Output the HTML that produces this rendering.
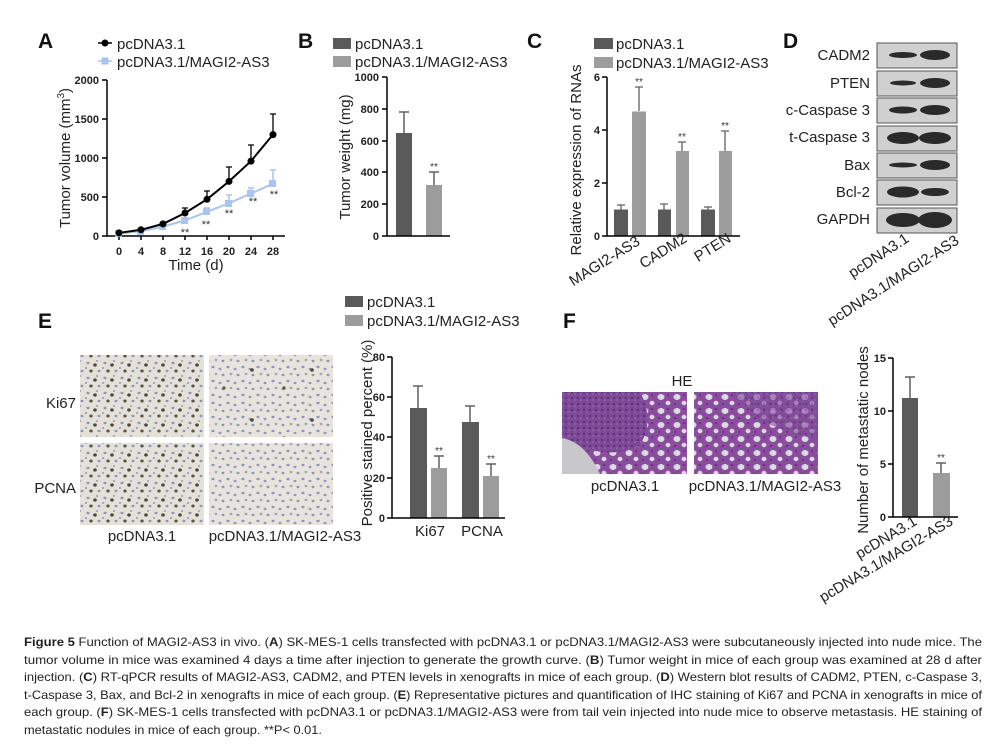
<!DOCTYPE html>
<html><head><meta charset="utf-8"><style>
html,body{margin:0;padding:0;background:#fff;}
svg{display:block;font-family:"Liberation Sans",sans-serif;}
.t{font-size:11px;font-weight:bold;fill:#222;}
.lg{font-size:15px;fill:#222;}
.pl{font-size:21px;font-weight:bold;fill:#111;}
.cap{font-size:11.6px;fill:#222;}
</style></head><body>
<svg width="1006" height="752" viewBox="0 0 1006 752" xmlns="http://www.w3.org/2000/svg">
<defs>
<pattern id="ihc1" width="17" height="15" patternUnits="userSpaceOnUse">
<rect width="17" height="15" fill="#e6e1d8"/>
<ellipse cx="3" cy="3" rx="1.6" ry="1.2" fill="#8a96c0"/>
<ellipse cx="10" cy="5" rx="1.8" ry="1.6" fill="#4a463a"/>
<ellipse cx="14" cy="11" rx="1.5" ry="1.2" fill="#8a96c0"/>
<ellipse cx="6" cy="11" rx="1.7" ry="1.5" fill="#5a5444"/>
<ellipse cx="12" cy="1" rx="1.2" ry="1" fill="#9aa4c8"/>
<ellipse cx="1" cy="8" rx="1.3" ry="1" fill="#9aa4c8"/>
</pattern>
<pattern id="ihc2" width="15" height="14" patternUnits="userSpaceOnUse">
<rect width="15" height="14" fill="#e8e4dc"/>
<ellipse cx="3" cy="3" rx="1.6" ry="1.2" fill="#8896c4"/>
<ellipse cx="10" cy="5" rx="1.5" ry="1.2" fill="#8c9ac6"/>
<ellipse cx="13" cy="11" rx="1.5" ry="1.2" fill="#8a96c0"/>
<ellipse cx="6" cy="10" rx="1.4" ry="1.2" fill="#9aa4c8"/>
</pattern>
<pattern id="ihc3" width="60" height="50" patternUnits="userSpaceOnUse">
<rect width="60" height="50" fill="url(#ihc2)"/>
<circle cx="12" cy="20" r="1.8" fill="#4a463a"/>
<circle cx="44" cy="38" r="1.6" fill="#5a5444"/>
</pattern>
<pattern id="he" width="16" height="14" patternUnits="userSpaceOnUse">
<rect width="16" height="14" fill="#8a4c9c"/>
<ellipse cx="5" cy="5" rx="3.5" ry="3" fill="#dcd8e4"/>
<ellipse cx="12" cy="11" rx="2.5" ry="2.2" fill="#dcd8e4"/>
<circle cx="12" cy="3" r="1" fill="#5a3278"/>
<circle cx="3" cy="12" r="1" fill="#5a3278"/>
</pattern>
<pattern id="hed" width="6" height="6" patternUnits="userSpaceOnUse">
<rect width="6" height="6" fill="#7e4a98"/>
<circle cx="2" cy="2" r="1" fill="#4e2a70"/>
<circle cx="5" cy="4" r="0.8" fill="#a070b0"/>
</pattern>
</defs>

<!-- Panel A -->
<text class="pl" x="38" y="48">A</text>
<line x1="98" y1="43" x2="112" y2="43" stroke="#000" stroke-width="1.5"/><circle cx="105" cy="43" r="3.5" fill="#000"/>
<text class="lg" x="117" y="49">pcDNA3.1</text>
<line x1="98" y1="61" x2="112" y2="61" stroke="#a8c4f0" stroke-width="1.5"/><rect x="101.5" y="57.5" width="7" height="7" fill="#a8c4f0"/>
<text class="lg" x="117" y="67">pcDNA3.1/MAGI2-AS3</text>
<g stroke="#000" stroke-width="1.5" fill="none">
<path d="M107 80V236H285"/>
<path d="M102 80H107M102 119H107M102 158H107M102 197H107M102 236H107"/>
<path d="M119 236v4M141 236v4M163 236v4M185 236v4M207 236v4M229 236v4M251 236v4M273 236v4"/>
</g>
<g class="t" text-anchor="end"><text x="99" y="84">2000</text><text x="99" y="123">1500</text><text x="99" y="162">1000</text><text x="99" y="201">500</text><text x="99" y="240">0</text></g>
<g class="t" text-anchor="middle"><text x="119" y="255">0</text><text x="141" y="255">4</text><text x="163" y="255">8</text><text x="185" y="255">12</text><text x="207" y="255">16</text><text x="229" y="255">20</text><text x="251" y="255">24</text><text x="273" y="255">28</text></g>
<text x="196" y="270" text-anchor="middle" style="font-size:15px;fill:#222">Time (d)</text>
<text transform="translate(70,158) rotate(-90)" text-anchor="middle" style="font-size:15px;fill:#222">Tumor volume (mm<tspan dy="-6" font-size="10">3</tspan><tspan dy="6">)</tspan></text>
<g stroke="#a8c4f0" stroke-width="1.5"><path d="M207 212V208M229 203V195M251 193V188M273 184V170M204 208h6M226 195h6M248 188h6M270 170h6"/></g>
<polyline points="119,233.3 141,231.3 163,226.6 185,220.4 207,211.8 229,203.2 251,193.5 273,183.7" fill="none" stroke="#a8c4f0" stroke-width="2"/>
<g fill="#a8c4f0"><rect x="115" y="230" width="7" height="7"/><rect x="137" y="228" width="7" height="7"/><rect x="159" y="223" width="7" height="7"/><rect x="181" y="217" width="7" height="7"/><rect x="203" y="208" width="7" height="7"/><rect x="225" y="200" width="7" height="7"/><rect x="247" y="190" width="7" height="7"/><rect x="269" y="180" width="7" height="7"/></g>
<g stroke="#000" stroke-width="1.3"><path d="M185 213V208M207 199V191M229 181V167M251 161V145M273 133V114M182 208h6M204 191h6M226 167h6M248 145h6M270 114h6"/></g>
<polyline points="119,232.9 141,229.8 163,223.9 185,213 207,199.3 229,181.4 251,161.1 273,134.6" fill="none" stroke="#000" stroke-width="2"/>
<g fill="#000"><circle cx="119" cy="232.9" r="3.5"/><circle cx="141" cy="229.8" r="3.5"/><circle cx="163" cy="223.9" r="3.5"/><circle cx="185" cy="213" r="3.5"/><circle cx="207" cy="199.3" r="3.5"/><circle cx="229" cy="181.4" r="3.5"/><circle cx="251" cy="161.1" r="3.5"/><circle cx="273" cy="134.6" r="3.5"/></g>
<g style="font-size:11px;fill:#333" text-anchor="middle"><text x="185" y="236">**</text><text x="206" y="228">**</text><text x="229" y="217">**</text><text x="253" y="205">**</text><text x="274" y="198">**</text></g>

<!-- Panel B -->
<text class="pl" x="298" y="48">B</text>
<rect x="333" y="38" width="18" height="11" fill="#5a5a5a"/><text class="lg" x="355" y="49">pcDNA3.1</text>
<rect x="333" y="56" width="18" height="11" fill="#9c9c9c"/><text class="lg" x="355" y="67">pcDNA3.1/MAGI2-AS3</text>
<g stroke="#606060" stroke-width="1.5"><path d="M404 133V112M399 112h10M434 185V172M429 172h10"/></g>
<rect x="396" y="133" width="16" height="103" fill="#5a5a5a"/>
<rect x="426" y="185" width="16" height="51" fill="#9c9c9c"/>
<g stroke="#000" stroke-width="1.5" fill="none"><path d="M387 77V236H450M382 77H387M382 109H387M382 141H387M382 172H387M382 204H387M382 236H387"/></g>
<g class="t" text-anchor="end"><text x="379" y="81">1000</text><text x="379" y="113">800</text><text x="379" y="145">600</text><text x="379" y="176">400</text><text x="379" y="208">200</text><text x="379" y="240">0</text></g>
<text x="434" y="170" text-anchor="middle" style="font-size:10px;fill:#333">**</text>
<text transform="translate(350,157) rotate(-90)" text-anchor="middle" style="font-size:15px;fill:#222">Tumor weight (mg)</text>

<!-- Panel C -->
<text class="pl" x="527" y="48">C</text>
<rect x="594" y="38" width="19" height="11" fill="#5a5a5a"/><text class="lg" x="616" y="49">pcDNA3.1</text>
<rect x="594" y="57" width="19" height="11" fill="#9c9c9c"/><text class="lg" x="616" y="68">pcDNA3.1/MAGI2-AS3</text>
<g stroke="#606060" stroke-width="1.3"><path d="M621 210V205M617 205h8M639 111V87M635 87h8M664 210V204M660 204h8M682 151V142M678 142h8M708 210V207M704 207h8M725 151V131M721 131h8"/></g>
<g fill="#5a5a5a"><rect x="614" y="209.5" width="14" height="26.5"/><rect x="658" y="209.5" width="13" height="26.5"/><rect x="701" y="209.5" width="14" height="26.5"/></g>
<g fill="#9c9c9c"><rect x="632" y="111.5" width="14" height="124.5"/><rect x="676" y="151" width="13" height="85"/><rect x="719" y="151" width="13" height="85"/></g>
<g stroke="#000" stroke-width="1.5" fill="none"><path d="M607 77V236H740M602 77H607M602 130H607M602 183H607M602 236H607"/></g>
<g class="t" text-anchor="end"><text x="600" y="81">6</text><text x="600" y="134">4</text><text x="600" y="187">2</text><text x="600" y="240">0</text></g>
<g style="font-size:10px;fill:#333" text-anchor="middle"><text x="639" y="85">**</text><text x="682" y="140">**</text><text x="725" y="129">**</text></g>
<text transform="translate(581,160) rotate(-90)" text-anchor="middle" style="font-size:15px;fill:#222">Relative expression of RNAs</text>
<g class="lg" text-anchor="end"><text transform="translate(641,244) rotate(-32)">MAGI2-AS3</text><text transform="translate(688,241) rotate(-32)">CADM2</text><text transform="translate(732,241) rotate(-32)">PTEN</text></g>

<!-- Panel D -->
<text class="pl" x="783" y="48">D</text>
<g class="lg" text-anchor="end"><text x="870" y="60">CADM2</text><text x="870" y="88">PTEN</text><text x="870" y="115">c-Caspase 3</text><text x="870" y="142">t-Caspase 3</text><text x="870" y="170">Bax</text><text x="870" y="197">Bcl-2</text><text x="870" y="224">GAPDH</text></g>
<g fill="#d0d0d0" stroke="#555" stroke-width="1">
<rect x="877" y="43" width="80" height="25"/><rect x="877" y="71" width="80" height="25"/><rect x="877" y="98" width="80" height="25"/><rect x="877" y="126" width="80" height="25"/><rect x="877" y="153" width="80" height="25"/><rect x="877" y="180" width="80" height="25"/><rect x="877" y="208" width="80" height="25"/></g>
<g fill="#2a2a2a">
<ellipse cx="903" cy="55" rx="14" ry="3"/><ellipse cx="935" cy="55" rx="15" ry="5"/>
<ellipse cx="903" cy="83" rx="13" ry="2.5"/><ellipse cx="935" cy="83" rx="15" ry="5"/>
<ellipse cx="903" cy="110" rx="14" ry="3.5"/><ellipse cx="935" cy="110" rx="15" ry="5"/>
<ellipse cx="903" cy="138" rx="16" ry="6"/><ellipse cx="935" cy="138" rx="16" ry="6"/>
<ellipse cx="903" cy="165" rx="14" ry="2.5"/><ellipse cx="935" cy="165" rx="15" ry="5"/>
<ellipse cx="903" cy="192" rx="16" ry="5.5"/><ellipse cx="935" cy="192" rx="14" ry="4"/>
<ellipse cx="903" cy="220" rx="17" ry="7"/><ellipse cx="935" cy="220" rx="17" ry="8"/></g>
<g class="lg" text-anchor="end"><text transform="translate(910,241) rotate(-33)">pcDNA3.1</text><text transform="translate(960,243) rotate(-33)">pcDNA3.1/MAGI2-AS3</text></g>

<!-- Panel E -->
<text class="pl" x="38" y="328">E</text>
<rect x="345" y="296" width="18" height="11" fill="#5a5a5a"/><text class="lg" x="367" y="307">pcDNA3.1</text>
<rect x="345" y="315" width="18" height="11" fill="#9c9c9c"/><text class="lg" x="367" y="326">pcDNA3.1/MAGI2-AS3</text>
<rect x="80" y="355" width="124" height="82" fill="url(#ihc1)"/>
<rect x="209" y="355" width="124" height="82" fill="url(#ihc3)"/>
<rect x="80" y="443" width="124" height="82" fill="url(#ihc1)"/>
<rect x="209" y="443" width="124" height="82" fill="url(#ihc2)"/>
<g class="lg" text-anchor="end"><text x="76" y="408">Ki67</text><text x="76" y="493">PCNA</text></g>
<g class="lg" text-anchor="middle"><text x="142" y="541">pcDNA3.1</text><text x="285" y="541">pcDNA3.1/MAGI2-AS3</text></g>
<g stroke="#606060" stroke-width="1.5"><path d="M418 408V386M413 386h10M439 468V456M434 456h10M470 422V406M465 406h10M491 476V464M486 464h10"/></g>
<g fill="#5a5a5a"><rect x="410" y="408" width="17" height="110"/><rect x="462" y="422" width="17" height="96"/></g>
<g fill="#9c9c9c"><rect x="431" y="468" width="16" height="50"/><rect x="483" y="476" width="16" height="42"/></g>
<g stroke="#000" stroke-width="1.5" fill="none"><path d="M392 357V518H505M387 357H392M387 397H392M387 437H392M387 478H392M387 518H392"/></g>
<g class="t" text-anchor="end"><text x="385" y="361">80</text><text x="385" y="401">60</text><text x="385" y="441">40</text><text x="385" y="482">20</text><text x="385" y="522">0</text></g>
<g style="font-size:10px;fill:#333" text-anchor="middle"><text x="439" y="454">**</text><text x="491" y="462">**</text></g>
<g class="lg" text-anchor="middle"><text x="430" y="536">Ki67</text><text x="482" y="536">PCNA</text></g>
<text transform="translate(372,433) rotate(-90)" text-anchor="middle" style="font-size:15px;fill:#222">Positive stained percent (%)</text>

<!-- Panel F -->
<text class="pl" x="563" y="328">F</text>
<text class="lg" x="682" y="386" text-anchor="middle">HE</text>
<rect x="562" y="392" width="125" height="82" fill="url(#he)"/>
<path d="M562 392H640Q655 420 640 445Q610 462 562 440Z" fill="url(#hed)"/>
<path d="M562 474V438Q585 442 600 474Z" fill="#c8c8cc"/>
<rect x="694" y="392" width="124" height="82" fill="url(#he)"/>
<path d="M730 392H818V440Q780 430 760 420Z" fill="url(#hed)" opacity="0.6"/>
<g class="lg" text-anchor="middle"><text x="625" y="491">pcDNA3.1</text><text x="765" y="491">pcDNA3.1/MAGI2-AS3</text></g>
<g stroke="#606060" stroke-width="1.5"><path d="M910 398V377M905 377h10M941 473V463M936 463h10"/></g>
<rect x="902" y="398" width="16" height="119" fill="#5a5a5a"/>
<rect x="933" y="473" width="17" height="44" fill="#9c9c9c"/>
<g stroke="#000" stroke-width="1.5" fill="none"><path d="M893 358V517H958M888 358H893M888 411H893M888 464H893M888 517H893"/></g>
<g class="t" text-anchor="end"><text x="886" y="362">15</text><text x="886" y="415">10</text><text x="886" y="468">5</text><text x="886" y="521">0</text></g>
<text x="941" y="461" text-anchor="middle" style="font-size:10px;fill:#333">**</text>
<text transform="translate(868,440) rotate(-90)" text-anchor="middle" style="font-size:15px;fill:#222">Number of metastatic nodes</text>
<g class="lg" text-anchor="end"><text transform="translate(918,524) rotate(-31)">pcDNA3.1</text><text transform="translate(954,524) rotate(-31)">pcDNA3.1/MAGI2-AS3</text></g>

<!-- Caption -->
<g class="cap">
<text x="24" y="646" textLength="958" lengthAdjust="spacingAndGlyphs"><tspan font-weight="bold">Figure 5</tspan> Function of MAGI2-AS3 in vivo. (<tspan font-weight="bold">A</tspan>) SK-MES-1 cells transfected with pcDNA3.1 or pcDNA3.1/MAGI2-AS3 were subcutaneously injected into nude mice. The</text>
<text x="24" y="664" textLength="958" lengthAdjust="spacingAndGlyphs">tumor volume in mice was examined 4 days a time after injection to generate the growth curve. (<tspan font-weight="bold">B</tspan>) Tumor weight in mice of each group was examined at 28 d after</text>
<text x="24" y="681" textLength="958" lengthAdjust="spacingAndGlyphs">injection. (<tspan font-weight="bold">C</tspan>) RT-qPCR results of MAGI2-AS3, CADM2, and PTEN levels in xenografts in mice of each group. (<tspan font-weight="bold">D</tspan>) Western blot results of CADM2, PTEN, c-Caspase 3,</text>
<text x="24" y="699" textLength="958" lengthAdjust="spacingAndGlyphs">t-Caspase 3, Bax, and Bcl-2 in xenografts in mice of each group. (<tspan font-weight="bold">E</tspan>) Representative pictures and quantification of IHC staining of Ki67 and PCNA in xenografts in mice of</text>
<text x="24" y="716" textLength="958" lengthAdjust="spacingAndGlyphs">each group. (<tspan font-weight="bold">F</tspan>) SK-MES-1 cells transfected with pcDNA3.1 or pcDNA3.1/MAGI2-AS3 were from tail vein injected into nude mice to observe metastasis. HE staining of</text>
<text x="24" y="734" textLength="298" lengthAdjust="spacingAndGlyphs">metastatic nodules in mice of each group. **P&lt; 0.01.</text>
</g>
</svg>
</body></html>
